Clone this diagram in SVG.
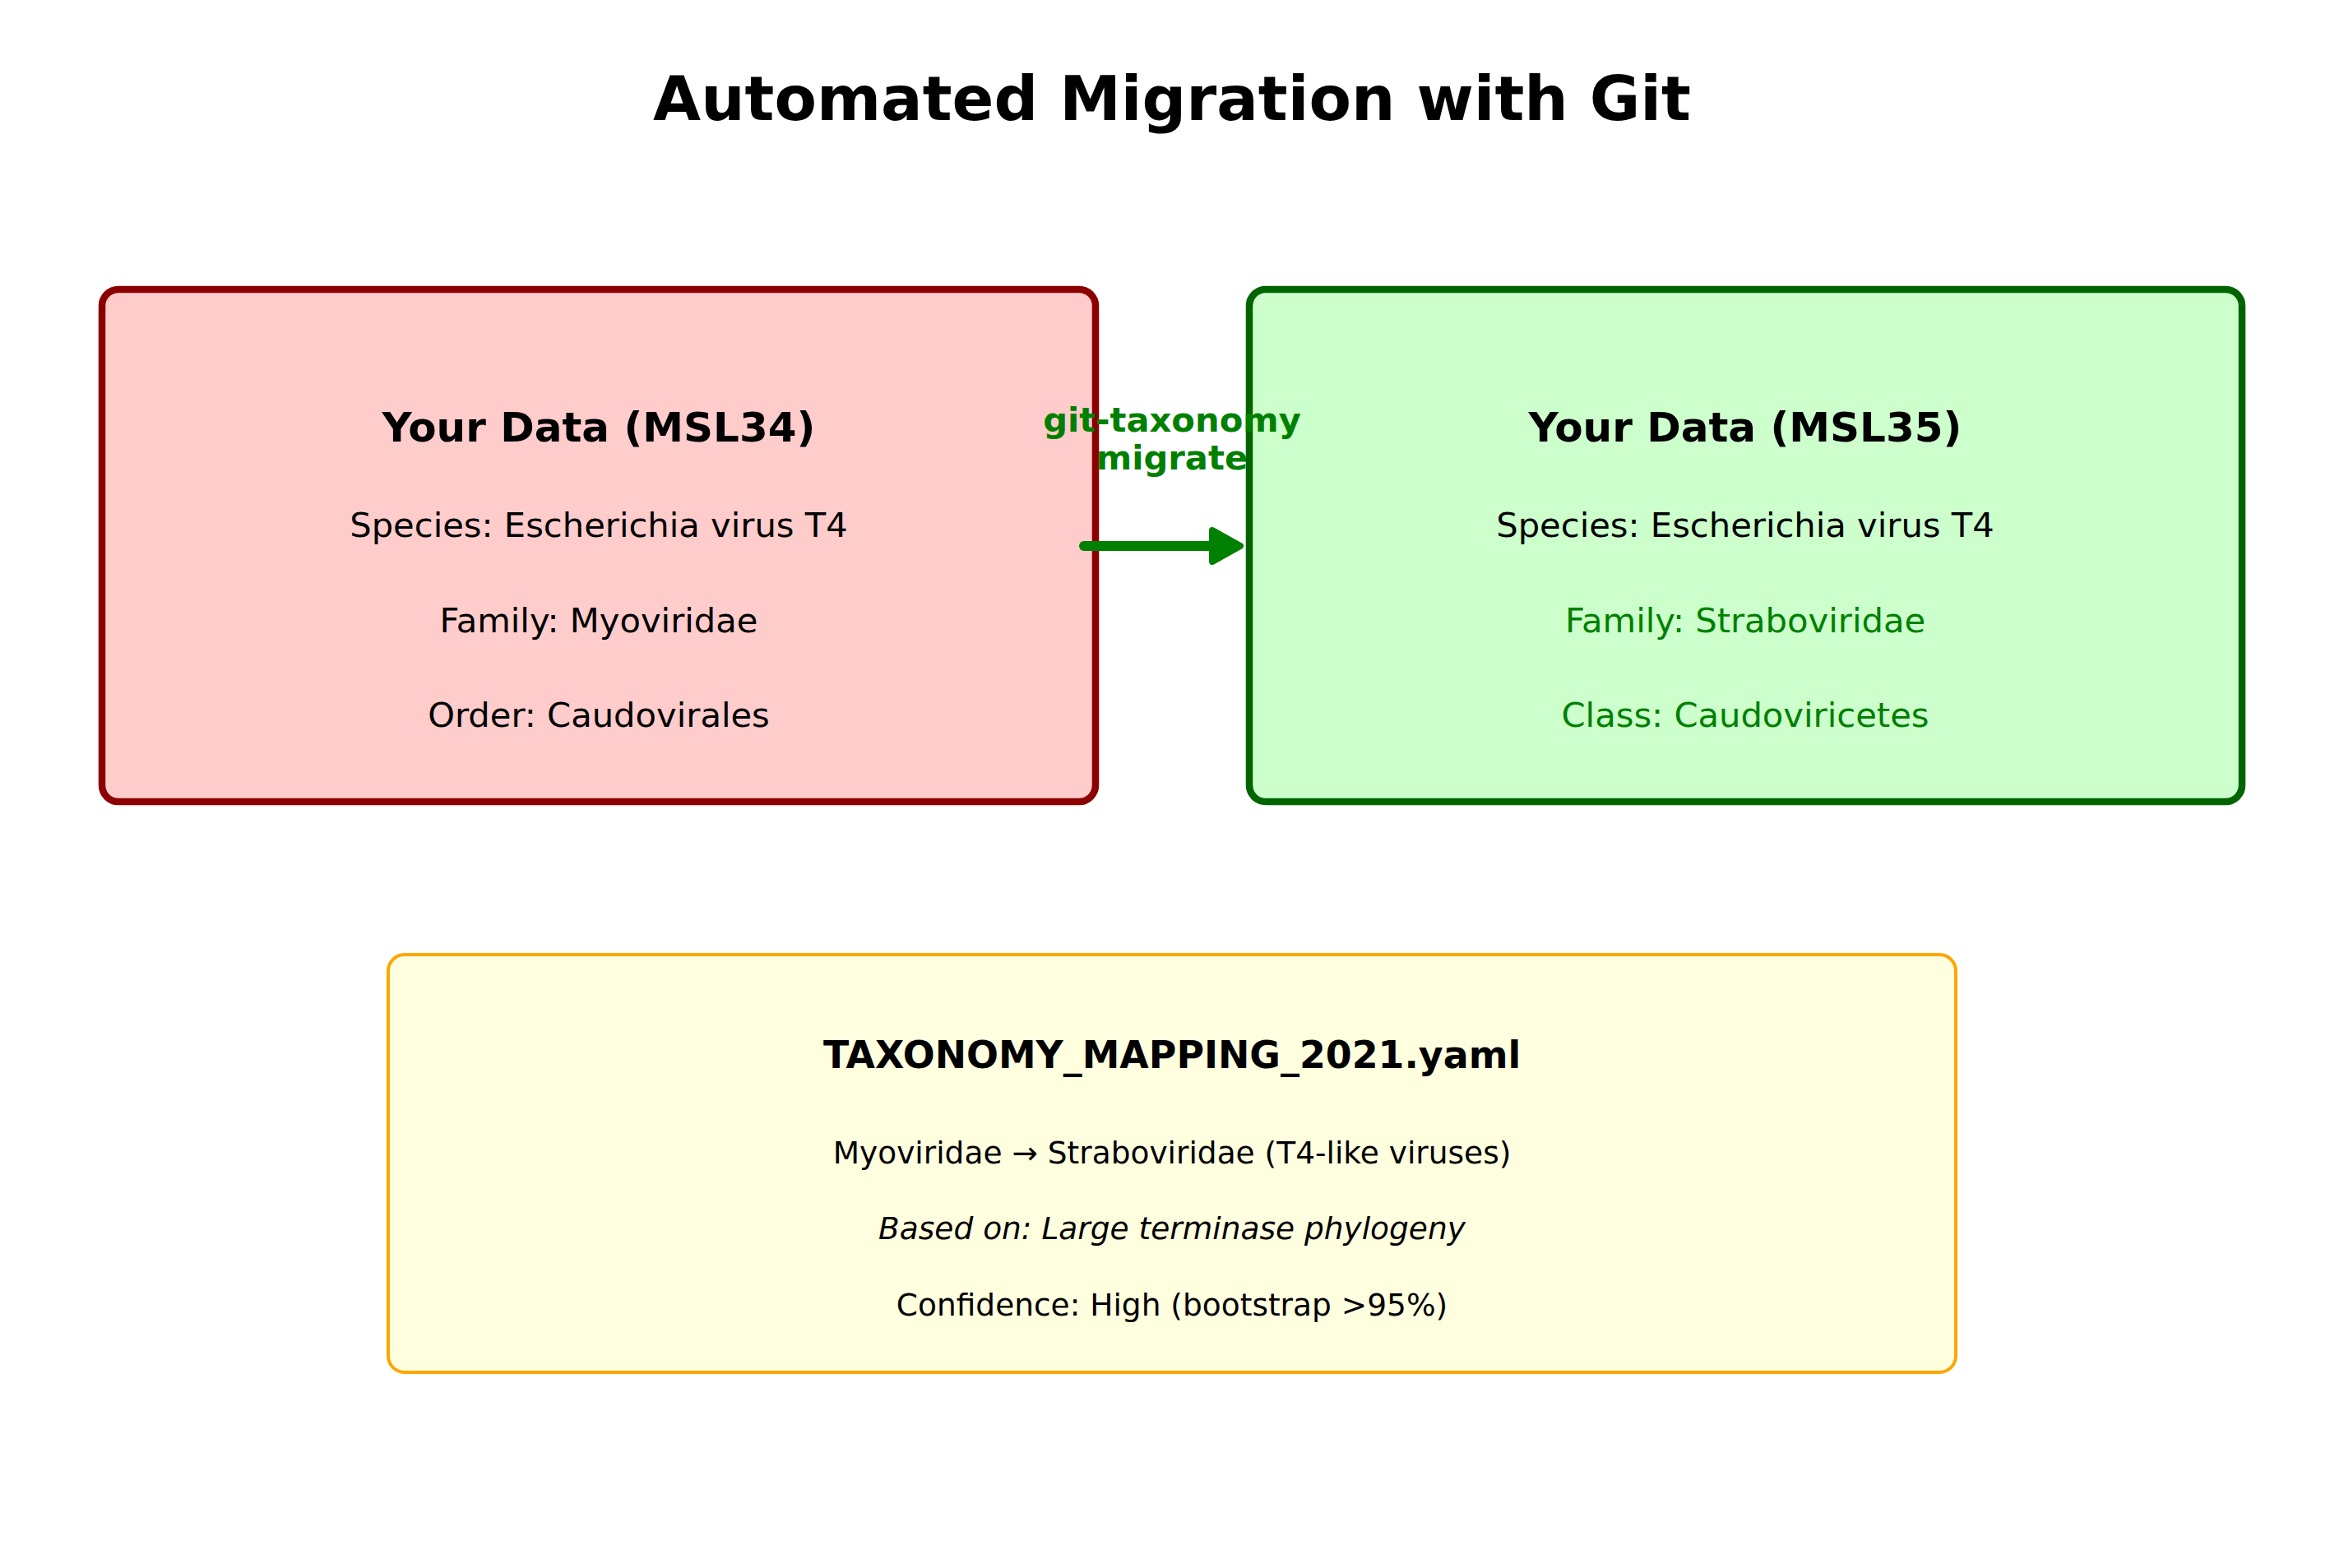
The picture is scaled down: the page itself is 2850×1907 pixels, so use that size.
<svg xmlns="http://www.w3.org/2000/svg" width="2850" height="1907" viewBox="0 0 2850 1907">
<style>
  text { font-family: "DejaVu Sans", "Liberation Sans", sans-serif; text-anchor: middle; }
  .title { font-size: 75px; font-weight: bold; fill: #000; }
  .head { font-size: 50px; font-weight: bold; fill: #000; }
  .body { font-size: 41.67px; fill: #000; }
  .new { fill: #008000; }
  .ytitle { font-size: 45.83px; font-weight: bold; fill: #000; }
  .ybody { font-size: 37.5px; fill: #000; }
  .lbl { font-size: 41.67px; font-weight: bold; fill: #008000; }
</style>
<defs>
  <marker id="ah" markerUnits="userSpaceOnUse" markerWidth="60" markerHeight="70" refX="26" refY="30" orient="auto" overflow="visible">
    <path d="M4,11 L38,30 L4,49 Z" fill="#008000" stroke="#008000" stroke-width="8" stroke-linejoin="round"/>
  </marker>
</defs>
<rect width="2850" height="1907" fill="#ffffff"/>
<text class="title" x="1425" y="146">Automated Migration with Git</text>

<g id="msl34">
  <rect x="124" y="352" width="1208" height="623" rx="20" ry="20" fill="#ffcccc" stroke="#8b0000" stroke-width="8.5"/>
  <text class="head" x="728" y="537">Your Data (MSL34)</text>
  <text class="body" x="728" y="653">Species: Escherichia virus T4</text>
  <text class="body" x="728" y="769">Family: Myoviridae</text>
  <text class="body" x="728" y="884">Order: Caudovirales</text>
</g>

<g id="msl35">
  <rect x="1519" y="352" width="1207" height="623" rx="20" ry="20" fill="#ccffcc" stroke="#006400" stroke-width="8.5"/>
  <text class="head" x="2122" y="537">Your Data (MSL35)</text>
  <text class="body" x="2122" y="653">Species: Escherichia virus T4</text>
  <text class="body new" x="2122" y="769">Family: Straboviridae</text>
  <text class="body new" x="2122" y="884">Class: Caudoviricetes</text>
</g>

<g id="mapping">
  <rect x="472" y="1161" width="1906" height="508" rx="20" ry="20" fill="#ffffe0" stroke="#ffa500" stroke-width="4"/>
  <text class="ytitle" x="1425" y="1299">TAXONOMY_MAPPING_2021.yaml</text>
  <text class="ybody" x="1425" y="1415">Myoviridae → Straboviridae (T4-like viruses)</text>
  <text class="ybody" x="1425" y="1507" font-style="italic">Based on: Large terminase phylogeny</text>
  <text class="ybody" x="1425" y="1600">Confidence: High (bootstrap &gt;95%)</text>
</g>

<g id="connectors">
  <line x1="1318" y1="664" x2="1496" y2="664" stroke="#008000" stroke-width="12" stroke-linecap="round" marker-end="url(#ah)"/>
  <text class="lbl" x="1425" y="525">git-taxonomy</text>
  <text class="lbl" x="1425" y="571">migrate</text>
</g>
</svg>
